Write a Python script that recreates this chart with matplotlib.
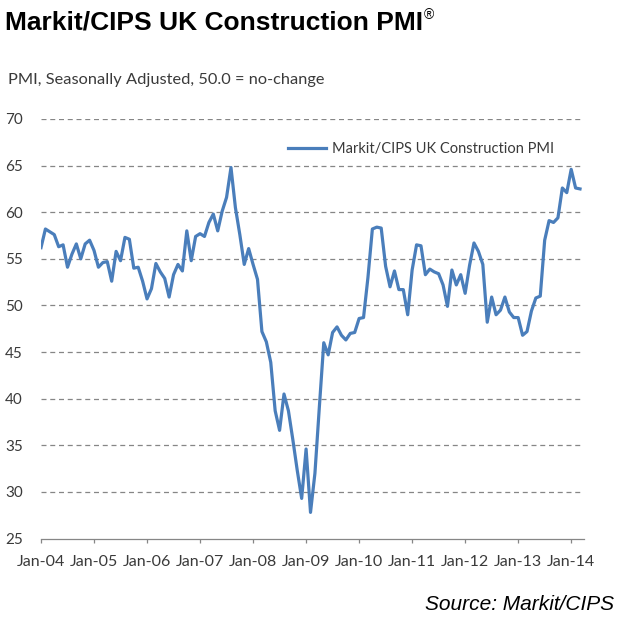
import numpy as np
import matplotlib
matplotlib.use('Agg')
from matplotlib import pyplot as plt

# monthly PMI readings, Jan-04 .. Mar-14
pmi_2004 = [56.2, 58.2, 57.9, 57.6, 56.3, 56.5, 54.1, 55.5, 56.6, 55.0, 56.6, 57.0]
pmi_2005 = [55.9, 54.1, 54.6, 54.7, 52.6, 55.8, 54.8, 57.3, 57.1, 54.0, 54.1, 52.6]
pmi_2006 = [50.7, 51.8, 54.5, 53.6, 52.9, 50.9, 53.3, 54.4, 53.7, 58.0, 54.8, 57.4]
pmi_2007 = [57.7, 57.4, 58.9, 59.8, 58.0, 60.1, 61.6, 64.8, 60.5, 57.6, 54.4, 56.1]
pmi_2008 = [54.4, 52.8, 47.2, 46.1, 43.9, 38.7, 36.6, 40.5, 38.7, 35.6, 32.3, 29.3]
pmi_2009 = [34.6, 27.8, 32.0, 39.1, 46.0, 44.7, 47.1, 47.7, 46.8, 46.3, 47.0, 47.1]
pmi_2010 = [48.6, 48.7, 53.0, 58.2, 58.4, 58.3, 54.2, 52.0, 53.7, 51.7, 51.7, 49.0]
pmi_2011 = [53.8, 56.5, 56.4, 53.3, 53.9, 53.6, 53.4, 52.2, 49.9, 53.8, 52.2, 53.3]
pmi_2012 = [51.3, 54.3, 56.7, 55.8, 54.4, 48.2, 50.9, 49.0, 49.5, 50.9, 49.3, 48.7]
pmi_2013 = [48.7, 46.8, 47.2, 49.4, 50.8, 51.0, 57.0, 59.1, 58.9, 59.4, 62.6, 62.1]
pmi_2014 = [64.6, 62.6, 62.5]

years = ['04', '05', '06', '07', '08', '09', '10', '11', '12', '13', '14']
tick_labels = ['Jan-' + y for y in years]
y_ticks = [25, 30, 35, 40, 45, 50, 55, 60, 65, 70]

pmi = (pmi_2004 + pmi_2005 + pmi_2006 + pmi_2007 + pmi_2008 + pmi_2009
       + pmi_2010 + pmi_2011 + pmi_2012 + pmi_2013 + pmi_2014)
months = np.arange(len(pmi))

W, H = 620, 623
fig = plt.figure(figsize=(W / 100, H / 100), dpi=100)
ax = fig.add_axes([41 / W, 1 - 538.5 / H, 543 / W, 419.5 / H])

line_col = '#4A7EBB'
grid_col = '#868686'
txt_col = '#3a3a3a'
lab_font = 'Lato'

ax.plot(months, pmi, color=line_col, linewidth=2.3, solid_joinstyle='round',
        label='Markit/CIPS UK Construction PMI', zorder=3)

ax.set_xlim(0, 122.9)
ax.set_ylim(25, 70)
ax.set_yticks(y_ticks)
ax.set_xticks(np.arange(0, 121, 12))
ax.set_xticklabels(tick_labels)

for t in y_ticks[1:]:
    ax.axhline(t, color=grid_col, linewidth=0.9, linestyle=(0, (4, 3)), zorder=1)

for s in ['top', 'right', 'left']:
    ax.spines[s].set_visible(False)
ax.spines['bottom'].set_color(grid_col)
ax.spines['bottom'].set_linewidth(0.9)

ax.tick_params(axis='y', length=0, pad=13, labelsize=11, labelcolor=txt_col)
ax.tick_params(axis='x', direction='out', length=3, width=0.9, color=grid_col,
               pad=9, labelsize=11.5, labelcolor=txt_col)
for lab in ax.get_xticklabels() + ax.get_yticklabels():
    lab.set_family(lab_font)

leg = ax.legend(loc='center left', bbox_to_anchor=(288 / W, 1 - 149 / H),
                bbox_transform=fig.transFigure, frameon=False, handlelength=2.6,
                handletextpad=0.4, borderpad=0, borderaxespad=0,
                prop={'family': lab_font, 'size': 10.5})
for t in leg.get_texts():
    t.set_color(txt_col)

title = fig.text(5 / W, 1 - 23 / H, 'Markit/CIPS UK Construction PMI',
                 family='Liberation Sans', weight='bold', size=19, va='center', ha='left')
fig.canvas.draw()
bb = title.get_window_extent()
fig.text((bb.x1 + 1) / W, 1 - 15 / H, '\u00ae', family='Liberation Sans',
         size=10, va='center', ha='left')

fig.text(8 / W, 1 - 80 / H, 'PMI, Seasonally Adjusted, 50.0 = no-change',
         family=lab_font, size=11.8, color=txt_col, va='center', ha='left')
fig.text(614 / W, 1 - 605 / H, 'Source: Markit/CIPS', family='Liberation Sans',
         style='italic', size=15, va='center', ha='right')

fig.savefig('out.png', dpi=100)
